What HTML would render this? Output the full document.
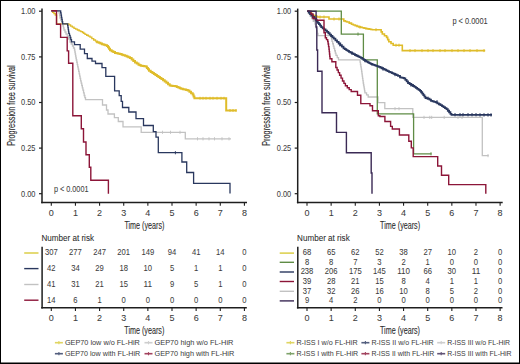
<!DOCTYPE html>
<html><head><meta charset="utf-8"><title>KM</title><style>html,body{margin:0;padding:0;background:#fff;}svg{display:block;}text{font-family:"Liberation Sans",sans-serif;}</style></head><body>
<svg width="520" height="364" viewBox="0 0 520 364" font-family="Liberation Sans, sans-serif">
<rect x="0" y="0" width="520" height="364" fill="#fff"/>
<line x1="42.00" y1="8.60" x2="42.00" y2="203.30" stroke="#1e1e1e" stroke-width="1.5"/>
<line x1="39.00" y1="11.20" x2="42.00" y2="11.20" stroke="#1e1e1e" stroke-width="1.2"/>
<text x="35.50" y="14.10" font-size="9.0" text-anchor="end" fill="#3c3c3c" stroke="#3c3c3c" stroke-width="0.06" textLength="14.40" lengthAdjust="spacingAndGlyphs">1.00</text>
<line x1="39.00" y1="56.90" x2="42.00" y2="56.90" stroke="#1e1e1e" stroke-width="1.2"/>
<text x="35.50" y="59.80" font-size="9.0" text-anchor="end" fill="#3c3c3c" stroke="#3c3c3c" stroke-width="0.06" textLength="14.40" lengthAdjust="spacingAndGlyphs">0.75</text>
<line x1="39.00" y1="102.50" x2="42.00" y2="102.50" stroke="#1e1e1e" stroke-width="1.2"/>
<text x="35.50" y="105.40" font-size="9.0" text-anchor="end" fill="#3c3c3c" stroke="#3c3c3c" stroke-width="0.06" textLength="14.40" lengthAdjust="spacingAndGlyphs">0.50</text>
<line x1="39.00" y1="148.10" x2="42.00" y2="148.10" stroke="#1e1e1e" stroke-width="1.2"/>
<text x="35.50" y="151.00" font-size="9.0" text-anchor="end" fill="#3c3c3c" stroke="#3c3c3c" stroke-width="0.06" textLength="14.40" lengthAdjust="spacingAndGlyphs">0.25</text>
<line x1="39.00" y1="193.70" x2="42.00" y2="193.70" stroke="#1e1e1e" stroke-width="1.2"/>
<text x="35.50" y="196.60" font-size="9.0" text-anchor="end" fill="#3c3c3c" stroke="#3c3c3c" stroke-width="0.06" textLength="14.40" lengthAdjust="spacingAndGlyphs">0.00</text>
<line x1="41.20" y1="202.60" x2="247.00" y2="202.60" stroke="#1e1e1e" stroke-width="1.5"/>
<line x1="51.30" y1="202.60" x2="51.30" y2="205.80" stroke="#1e1e1e" stroke-width="1.1"/>
<text x="51.30" y="215.90" font-size="9.0" text-anchor="middle" fill="#3c3c3c" stroke="#3c3c3c" stroke-width="0.06">0</text>
<line x1="75.44" y1="202.60" x2="75.44" y2="205.80" stroke="#1e1e1e" stroke-width="1.1"/>
<text x="75.44" y="215.90" font-size="9.0" text-anchor="middle" fill="#3c3c3c" stroke="#3c3c3c" stroke-width="0.06">1</text>
<line x1="99.58" y1="202.60" x2="99.58" y2="205.80" stroke="#1e1e1e" stroke-width="1.1"/>
<text x="99.58" y="215.90" font-size="9.0" text-anchor="middle" fill="#3c3c3c" stroke="#3c3c3c" stroke-width="0.06">2</text>
<line x1="123.72" y1="202.60" x2="123.72" y2="205.80" stroke="#1e1e1e" stroke-width="1.1"/>
<text x="123.72" y="215.90" font-size="9.0" text-anchor="middle" fill="#3c3c3c" stroke="#3c3c3c" stroke-width="0.06">3</text>
<line x1="147.86" y1="202.60" x2="147.86" y2="205.80" stroke="#1e1e1e" stroke-width="1.1"/>
<text x="147.86" y="215.90" font-size="9.0" text-anchor="middle" fill="#3c3c3c" stroke="#3c3c3c" stroke-width="0.06">4</text>
<line x1="172.00" y1="202.60" x2="172.00" y2="205.80" stroke="#1e1e1e" stroke-width="1.1"/>
<text x="172.00" y="215.90" font-size="9.0" text-anchor="middle" fill="#3c3c3c" stroke="#3c3c3c" stroke-width="0.06">5</text>
<line x1="196.14" y1="202.60" x2="196.14" y2="205.80" stroke="#1e1e1e" stroke-width="1.1"/>
<text x="196.14" y="215.90" font-size="9.0" text-anchor="middle" fill="#3c3c3c" stroke="#3c3c3c" stroke-width="0.06">6</text>
<line x1="220.28" y1="202.60" x2="220.28" y2="205.80" stroke="#1e1e1e" stroke-width="1.1"/>
<text x="220.28" y="215.90" font-size="9.0" text-anchor="middle" fill="#3c3c3c" stroke="#3c3c3c" stroke-width="0.06">7</text>
<line x1="244.42" y1="202.60" x2="244.42" y2="205.80" stroke="#1e1e1e" stroke-width="1.1"/>
<text x="244.42" y="215.90" font-size="9.0" text-anchor="middle" fill="#3c3c3c" stroke="#3c3c3c" stroke-width="0.06">8</text>
<text x="124.40" y="228.60" font-size="10.6" text-anchor="start" fill="#2e2e2e" stroke="#2e2e2e" stroke-width="0.12" textLength="40.00" lengthAdjust="spacingAndGlyphs">Time (years)</text>
<text x="0" y="0" font-size="10.6" fill="#2e2e2e" textLength="80.5" lengthAdjust="spacingAndGlyphs" stroke="#2e2e2e" stroke-width="0.12" transform="translate(14.60,145.8) rotate(-90)">Progression free survival</text>
<text x="41.40" y="240.80" font-size="9.0" text-anchor="start" fill="#2e2e2e" stroke="#2e2e2e" stroke-width="0.08" textLength="52.60" lengthAdjust="spacingAndGlyphs">Number at risk</text>
<line x1="42.10" y1="246.80" x2="42.10" y2="308.40" stroke="#1e1e1e" stroke-width="1.5"/>
<line x1="41.20" y1="307.70" x2="246.80" y2="307.70" stroke="#1e1e1e" stroke-width="1.5"/>
<line x1="51.30" y1="307.70" x2="51.30" y2="310.90" stroke="#1e1e1e" stroke-width="1.1"/>
<text x="51.30" y="321.00" font-size="9.0" text-anchor="middle" fill="#3c3c3c" stroke="#3c3c3c" stroke-width="0.06">0</text>
<line x1="75.44" y1="307.70" x2="75.44" y2="310.90" stroke="#1e1e1e" stroke-width="1.1"/>
<text x="75.44" y="321.00" font-size="9.0" text-anchor="middle" fill="#3c3c3c" stroke="#3c3c3c" stroke-width="0.06">1</text>
<line x1="99.58" y1="307.70" x2="99.58" y2="310.90" stroke="#1e1e1e" stroke-width="1.1"/>
<text x="99.58" y="321.00" font-size="9.0" text-anchor="middle" fill="#3c3c3c" stroke="#3c3c3c" stroke-width="0.06">2</text>
<line x1="123.72" y1="307.70" x2="123.72" y2="310.90" stroke="#1e1e1e" stroke-width="1.1"/>
<text x="123.72" y="321.00" font-size="9.0" text-anchor="middle" fill="#3c3c3c" stroke="#3c3c3c" stroke-width="0.06">3</text>
<line x1="147.86" y1="307.70" x2="147.86" y2="310.90" stroke="#1e1e1e" stroke-width="1.1"/>
<text x="147.86" y="321.00" font-size="9.0" text-anchor="middle" fill="#3c3c3c" stroke="#3c3c3c" stroke-width="0.06">4</text>
<line x1="172.00" y1="307.70" x2="172.00" y2="310.90" stroke="#1e1e1e" stroke-width="1.1"/>
<text x="172.00" y="321.00" font-size="9.0" text-anchor="middle" fill="#3c3c3c" stroke="#3c3c3c" stroke-width="0.06">5</text>
<line x1="196.14" y1="307.70" x2="196.14" y2="310.90" stroke="#1e1e1e" stroke-width="1.1"/>
<text x="196.14" y="321.00" font-size="9.0" text-anchor="middle" fill="#3c3c3c" stroke="#3c3c3c" stroke-width="0.06">6</text>
<line x1="220.28" y1="307.70" x2="220.28" y2="310.90" stroke="#1e1e1e" stroke-width="1.1"/>
<text x="220.28" y="321.00" font-size="9.0" text-anchor="middle" fill="#3c3c3c" stroke="#3c3c3c" stroke-width="0.06">7</text>
<line x1="244.42" y1="307.70" x2="244.42" y2="310.90" stroke="#1e1e1e" stroke-width="1.1"/>
<text x="244.42" y="321.00" font-size="9.0" text-anchor="middle" fill="#3c3c3c" stroke="#3c3c3c" stroke-width="0.06">8</text>
<text x="124.30" y="333.50" font-size="10.6" text-anchor="start" fill="#2e2e2e" stroke="#2e2e2e" stroke-width="0.12" textLength="40.00" lengthAdjust="spacingAndGlyphs">Time (years)</text>
<line x1="297.70" y1="8.60" x2="297.70" y2="203.30" stroke="#1e1e1e" stroke-width="1.5"/>
<line x1="294.70" y1="11.20" x2="297.70" y2="11.20" stroke="#1e1e1e" stroke-width="1.2"/>
<text x="291.20" y="14.10" font-size="9.0" text-anchor="end" fill="#3c3c3c" stroke="#3c3c3c" stroke-width="0.06" textLength="14.40" lengthAdjust="spacingAndGlyphs">1.00</text>
<line x1="294.70" y1="56.90" x2="297.70" y2="56.90" stroke="#1e1e1e" stroke-width="1.2"/>
<text x="291.20" y="59.80" font-size="9.0" text-anchor="end" fill="#3c3c3c" stroke="#3c3c3c" stroke-width="0.06" textLength="14.40" lengthAdjust="spacingAndGlyphs">0.75</text>
<line x1="294.70" y1="102.50" x2="297.70" y2="102.50" stroke="#1e1e1e" stroke-width="1.2"/>
<text x="291.20" y="105.40" font-size="9.0" text-anchor="end" fill="#3c3c3c" stroke="#3c3c3c" stroke-width="0.06" textLength="14.40" lengthAdjust="spacingAndGlyphs">0.50</text>
<line x1="294.70" y1="148.10" x2="297.70" y2="148.10" stroke="#1e1e1e" stroke-width="1.2"/>
<text x="291.20" y="151.00" font-size="9.0" text-anchor="end" fill="#3c3c3c" stroke="#3c3c3c" stroke-width="0.06" textLength="14.40" lengthAdjust="spacingAndGlyphs">0.25</text>
<line x1="294.70" y1="193.70" x2="297.70" y2="193.70" stroke="#1e1e1e" stroke-width="1.2"/>
<text x="291.20" y="196.60" font-size="9.0" text-anchor="end" fill="#3c3c3c" stroke="#3c3c3c" stroke-width="0.06" textLength="14.40" lengthAdjust="spacingAndGlyphs">0.00</text>
<line x1="296.90" y1="202.60" x2="502.70" y2="202.60" stroke="#1e1e1e" stroke-width="1.5"/>
<line x1="307.00" y1="202.60" x2="307.00" y2="205.80" stroke="#1e1e1e" stroke-width="1.1"/>
<text x="307.00" y="215.90" font-size="9.0" text-anchor="middle" fill="#3c3c3c" stroke="#3c3c3c" stroke-width="0.06">0</text>
<line x1="331.14" y1="202.60" x2="331.14" y2="205.80" stroke="#1e1e1e" stroke-width="1.1"/>
<text x="331.14" y="215.90" font-size="9.0" text-anchor="middle" fill="#3c3c3c" stroke="#3c3c3c" stroke-width="0.06">1</text>
<line x1="355.28" y1="202.60" x2="355.28" y2="205.80" stroke="#1e1e1e" stroke-width="1.1"/>
<text x="355.28" y="215.90" font-size="9.0" text-anchor="middle" fill="#3c3c3c" stroke="#3c3c3c" stroke-width="0.06">2</text>
<line x1="379.42" y1="202.60" x2="379.42" y2="205.80" stroke="#1e1e1e" stroke-width="1.1"/>
<text x="379.42" y="215.90" font-size="9.0" text-anchor="middle" fill="#3c3c3c" stroke="#3c3c3c" stroke-width="0.06">3</text>
<line x1="403.56" y1="202.60" x2="403.56" y2="205.80" stroke="#1e1e1e" stroke-width="1.1"/>
<text x="403.56" y="215.90" font-size="9.0" text-anchor="middle" fill="#3c3c3c" stroke="#3c3c3c" stroke-width="0.06">4</text>
<line x1="427.70" y1="202.60" x2="427.70" y2="205.80" stroke="#1e1e1e" stroke-width="1.1"/>
<text x="427.70" y="215.90" font-size="9.0" text-anchor="middle" fill="#3c3c3c" stroke="#3c3c3c" stroke-width="0.06">5</text>
<line x1="451.84" y1="202.60" x2="451.84" y2="205.80" stroke="#1e1e1e" stroke-width="1.1"/>
<text x="451.84" y="215.90" font-size="9.0" text-anchor="middle" fill="#3c3c3c" stroke="#3c3c3c" stroke-width="0.06">6</text>
<line x1="475.98" y1="202.60" x2="475.98" y2="205.80" stroke="#1e1e1e" stroke-width="1.1"/>
<text x="475.98" y="215.90" font-size="9.0" text-anchor="middle" fill="#3c3c3c" stroke="#3c3c3c" stroke-width="0.06">7</text>
<line x1="500.12" y1="202.60" x2="500.12" y2="205.80" stroke="#1e1e1e" stroke-width="1.1"/>
<text x="500.12" y="215.90" font-size="9.0" text-anchor="middle" fill="#3c3c3c" stroke="#3c3c3c" stroke-width="0.06">8</text>
<text x="380.10" y="228.60" font-size="10.6" text-anchor="start" fill="#2e2e2e" stroke="#2e2e2e" stroke-width="0.12" textLength="40.00" lengthAdjust="spacingAndGlyphs">Time (years)</text>
<text x="0" y="0" font-size="10.6" fill="#2e2e2e" textLength="80.5" lengthAdjust="spacingAndGlyphs" stroke="#2e2e2e" stroke-width="0.12" transform="translate(270.30,145.8) rotate(-90)">Progression free survival</text>
<text x="297.10" y="240.80" font-size="9.0" text-anchor="start" fill="#2e2e2e" stroke="#2e2e2e" stroke-width="0.08" textLength="52.60" lengthAdjust="spacingAndGlyphs">Number at risk</text>
<line x1="297.80" y1="246.80" x2="297.80" y2="308.40" stroke="#1e1e1e" stroke-width="1.5"/>
<line x1="296.90" y1="307.70" x2="502.50" y2="307.70" stroke="#1e1e1e" stroke-width="1.5"/>
<line x1="307.00" y1="307.70" x2="307.00" y2="310.90" stroke="#1e1e1e" stroke-width="1.1"/>
<text x="307.00" y="321.00" font-size="9.0" text-anchor="middle" fill="#3c3c3c" stroke="#3c3c3c" stroke-width="0.06">0</text>
<line x1="331.14" y1="307.70" x2="331.14" y2="310.90" stroke="#1e1e1e" stroke-width="1.1"/>
<text x="331.14" y="321.00" font-size="9.0" text-anchor="middle" fill="#3c3c3c" stroke="#3c3c3c" stroke-width="0.06">1</text>
<line x1="355.28" y1="307.70" x2="355.28" y2="310.90" stroke="#1e1e1e" stroke-width="1.1"/>
<text x="355.28" y="321.00" font-size="9.0" text-anchor="middle" fill="#3c3c3c" stroke="#3c3c3c" stroke-width="0.06">2</text>
<line x1="379.42" y1="307.70" x2="379.42" y2="310.90" stroke="#1e1e1e" stroke-width="1.1"/>
<text x="379.42" y="321.00" font-size="9.0" text-anchor="middle" fill="#3c3c3c" stroke="#3c3c3c" stroke-width="0.06">3</text>
<line x1="403.56" y1="307.70" x2="403.56" y2="310.90" stroke="#1e1e1e" stroke-width="1.1"/>
<text x="403.56" y="321.00" font-size="9.0" text-anchor="middle" fill="#3c3c3c" stroke="#3c3c3c" stroke-width="0.06">4</text>
<line x1="427.70" y1="307.70" x2="427.70" y2="310.90" stroke="#1e1e1e" stroke-width="1.1"/>
<text x="427.70" y="321.00" font-size="9.0" text-anchor="middle" fill="#3c3c3c" stroke="#3c3c3c" stroke-width="0.06">5</text>
<line x1="451.84" y1="307.70" x2="451.84" y2="310.90" stroke="#1e1e1e" stroke-width="1.1"/>
<text x="451.84" y="321.00" font-size="9.0" text-anchor="middle" fill="#3c3c3c" stroke="#3c3c3c" stroke-width="0.06">6</text>
<line x1="475.98" y1="307.70" x2="475.98" y2="310.90" stroke="#1e1e1e" stroke-width="1.1"/>
<text x="475.98" y="321.00" font-size="9.0" text-anchor="middle" fill="#3c3c3c" stroke="#3c3c3c" stroke-width="0.06">7</text>
<line x1="500.12" y1="307.70" x2="500.12" y2="310.90" stroke="#1e1e1e" stroke-width="1.1"/>
<text x="500.12" y="321.00" font-size="9.0" text-anchor="middle" fill="#3c3c3c" stroke="#3c3c3c" stroke-width="0.06">8</text>
<text x="380.00" y="333.50" font-size="10.6" text-anchor="start" fill="#2e2e2e" stroke="#2e2e2e" stroke-width="0.12" textLength="40.00" lengthAdjust="spacingAndGlyphs">Time (years)</text>
<path d="M51.30,10.80H52.62V12.23H53.95V13.65H55.27V15.07H56.60V16.50V23.80H67.20H68.90V24.93H70.60V26.05H72.30V27.18H74.00V28.30H75.70V29.14H77.40V29.98H79.10V30.82H80.80V31.66H82.50V32.50H83.75V33.40H85.00V34.30H86.67V35.23H88.33V36.17H90.00V37.10H91.83V38.57H93.67V40.03H95.50V41.50" fill="none" stroke="#dfbc2a" stroke-width="1.35" stroke-linejoin="miter" stroke-linecap="butt"/>
<path d="M95.50,41.50H97.14V42.16H98.78V42.82H100.42V43.48H102.06V44.14H103.70V44.80H105.35V45.35H107.00V45.90H108.00V47.37H109.00V48.83H110.00V50.30H111.67V51.20H113.33V52.10H115.00V53.00H116.67V53.37H118.33V53.73H120.00V54.10H121.67V54.67H123.33V55.23H125.00V55.80H126.67V56.53H128.33V57.27H130.00V58.00H131.67V59.47H133.33V60.93H135.00V62.40H136.75V63.60H138.50V64.80H139.75V65.30H141.00V65.80H142.60V66.03H144.20V66.27H145.80V66.50H146.87V67.90H147.93V69.30H149.00V70.70H150.70V71.90H152.40V73.10H153.90V74.07H155.40V75.03H156.90V76.00H158.40V76.97H159.90V77.93H161.40V78.90H163.06V80.22H164.72V81.54H166.38V82.86H168.04V84.18H169.70V85.50H171.12V85.70H172.55V85.90H173.97V86.10H175.40V86.30H176.85V86.92H178.30V87.55H179.75V88.17H181.20V88.80H182.85V89.20H184.50V89.60H186.15V90.00H187.80V90.40H189.43V91.80H191.07V93.20H192.70V94.60H193.55V96.40H194.40V98.20H226.20V110.40H236.70" fill="none" stroke="#dfbc2a" stroke-width="2.0" stroke-linejoin="miter" stroke-linecap="butt"/>
<path d="M200.00,96.80V99.60M203.00,96.80V99.60M206.00,96.80V99.60M210.00,96.80V99.60M213.00,96.80V99.60M217.00,96.80V99.60M221.00,96.80V99.60M224.00,96.80V99.60M230.00,109.00V111.80M233.00,109.00V111.80M236.00,109.00V111.80" stroke="#dfbc2a" stroke-width="1.0" fill="none"/>
<path d="M51.30,10.80H58.70H59.13V13.20H59.57V15.60H60.00V18.00H60.83V20.00H61.67V22.00H62.50V24.00H63.00V26.00H63.50V28.00H64.00V30.00H65.00V32.00H66.00V34.00H67.25V36.50H68.50V39.00H70.00V42.00H71.25V44.00H72.50V46.00H73.50V48.00H74.50V50.00H74.86V52.00H75.22V54.00H75.58V56.00H75.94V58.00H76.30V60.00H76.78V62.27H77.25V64.55H77.72V66.82H78.20V69.10H78.68V71.44H79.16V73.78H79.64V76.12H80.12V78.46H80.60V80.80H81.17V83.15H81.75V85.50H82.33V87.85H82.90V90.20H83.55V92.85H84.20V95.50H84.85V97.55H85.50V99.60H102.50V105.00H106.50V110.00H108.00V114.00H114.40V117.70H118.30V121.50H123.00V126.80H141.20V132.30H185.30V138.80H231.00" fill="none" stroke="#c2c2c2" stroke-width="1.3" stroke-linejoin="miter" stroke-linecap="butt"/>
<path d="M162.50,130.70V133.90M170.50,130.70V133.90M180.00,130.70V133.90M197.50,137.20V140.40M203.00,137.20V140.40M209.00,137.20V140.40M214.50,137.20V140.40M222.00,137.20V140.40M229.00,137.20V140.40" stroke="#c2c2c2" stroke-width="0.9" fill="none"/>
<path d="M51.30,10.80H60.30H60.68V12.97H61.07V15.13H61.45V17.30H61.83V19.47H62.22V21.63H62.60V23.80H67.40H67.68V25.72H67.96V27.64H68.24V29.56H68.52V31.48H68.80V33.40H69.45V35.45H70.10V37.50H70.80V39.65H71.50V41.80H74.50V44.60H80.20V49.20H84.50V53.60H87.30V58.50H92.00V61.20H95.50V63.50H102.00V67.70H105.80V76.30H114.60V90.80H119.20V95.60H121.20V101.30H122.50V107.50H128.80V112.00H136.00V118.70H143.50V125.50H153.30V131.70H156.00V137.20H158.30V152.70H181.90V162.00H186.70V172.50H193.60V183.30H230.00V193.60" fill="none" stroke="#29375e" stroke-width="1.3" stroke-linejoin="miter" stroke-linecap="butt"/>
<path d="M175.40,151.10V154.30" stroke="#29375e" stroke-width="0.9" fill="none"/>
<path d="M51.3,10.8H56.5V24.2H60.6V37.4H67.2V50.9H68.6V63.3H72.8V115.8H81.3V128.8H83.5V142H86V154.8H89.3V167.3H90.8V180.2H108.4V193.7" fill="none" stroke="#8c1538" stroke-width="1.4" stroke-linejoin="miter" stroke-linecap="butt"/>
<text x="53.90" y="191.70" font-size="9.0" text-anchor="start" fill="#3c3c3c" stroke="#3c3c3c" stroke-width="0.06" textLength="34.60" lengthAdjust="spacingAndGlyphs">p &lt; 0.0001</text>
<path d="M307.30,11.20H309.45V13.10H311.60V15.00H313.53V15.67H315.47V16.33H317.40V17.00H329.00V19.00H343.80V20.90H345.40V21.45H347.00V22.00H349.25V23.10H351.50V24.20H353.33V24.93H355.17V25.67H357.00V26.40H358.76V26.84H360.52V27.28H362.28V27.72H364.04V28.16H365.80V28.60H367.45V28.88H369.10V29.15H370.75V29.43H372.40V29.70H380.00H381.15V31.85H382.30V34.00H384.45V35.70H386.60V37.40H387.70V39.60H388.80V41.80H391.00V43.50H393.20V45.20H402.30V50.60H485.20" fill="none" stroke="#dfbc2a" stroke-width="1.6" stroke-linejoin="miter" stroke-linecap="butt"/>
<path d="M320.00,15.50V18.50M324.00,15.50V18.50M334.00,17.50V20.50M339.00,17.50V20.50M360.00,25.70V28.70M376.00,28.20V31.20M396.00,43.70V46.70M399.00,43.70V46.70M410.00,49.10V52.10M415.00,49.10V52.10M422.00,49.10V52.10M428.00,49.10V52.10M433.00,49.10V52.10M440.00,49.10V52.10M445.00,49.10V52.10M452.00,49.10V52.10M458.00,49.10V52.10M464.00,49.10V52.10M470.00,49.10V52.10M477.00,49.10V52.10M484.00,49.10V52.10" stroke="#dfbc2a" stroke-width="1.0" fill="none"/>
<path d="M307.30,11.20H308.73V13.63H310.17V16.07H311.60V18.50H313.30V21.25H315.00V24.00H315.58V26.32H316.16V28.64H316.74V30.96H317.32V33.28H317.90V35.60H330.90H331.27V37.53H331.63V39.47H332.00V41.40H332.67V43.73H333.33V46.07H334.00V48.40H334.67V50.73H335.33V53.07H336.00V55.40H337.25V57.60H338.50V59.80H359.70H360.08V62.14H360.46V64.48H360.84V66.82H361.22V69.16H361.60V71.50H361.92V73.80H362.24V76.10H362.56V78.40H362.88V80.70H363.20V83.00H363.54V84.98H363.88V86.96H364.22V88.94H364.56V90.92H364.90V92.90H366.55V94.95H368.20V97.00H378.00V102.60H384.80V108.70H412.80V117.40H482.30V155.60H488.70" fill="none" stroke="#c2c2c2" stroke-width="1.3" stroke-linejoin="miter" stroke-linecap="butt"/>
<path d="M395.00,107.10V110.30M399.00,107.10V110.30M424.00,115.80V119.00M429.80,115.80V119.00M431.70,115.80V119.00M444.20,115.80V119.00M458.00,115.80V119.00M462.00,115.80V119.00M488.00,154.00V157.20" stroke="#c2c2c2" stroke-width="0.9" fill="none"/>
<path d="M307.3,11.2H341.3V34.1H363.4V59.9H377.3V113.9H413.6V153.8H431.6" fill="none" stroke="#5f8c45" stroke-width="1.3" stroke-linejoin="miter" stroke-linecap="butt"/>
<path d="M358.00,32.50V35.70M431.00,152.20V155.40" stroke="#5f8c45" stroke-width="0.9" fill="none"/>
<path d="M307.30,11.20H308.67V12.65H310.03V14.10H311.40V15.55H312.77V17.00H314.13V18.45H315.50V19.90H316.64V21.34H317.78V22.78H318.92V24.22H320.06V25.66H321.20V27.10H322.65V28.30H324.10V29.50H325.55V30.70H327.00V31.90H328.36V33.26H329.72V34.62H331.08V35.98H332.44V37.34H333.80V38.70H335.42V40.30H337.03V41.90H338.65V43.50H340.27V45.10H341.88V46.70H343.50V48.30H344.88V49.17H346.25V50.05H347.62V50.92H349.00V51.80H350.50V52.60H352.00V53.40H353.50V54.20H355.00V55.00H356.45V55.73H357.90V56.45H359.35V57.17H360.80V57.90H362.23V58.85H363.65V59.80H365.07V60.75H366.50V61.70H367.88V62.40H369.25V63.10H370.62V63.80H372.00V64.50H373.36V64.96H374.72V65.42H376.08V65.88H377.44V66.34H378.80V66.80H380.26V67.51H381.71V68.23H383.17V68.94H384.63V69.66H386.09V70.37H387.54V71.09H389.00V71.80H390.50V72.47H392.00V73.13H393.50V73.80H395.00V74.47H396.50V75.13H398.00V75.80H400.00V77.30H401.33V77.63H402.67V77.97H404.00V78.30H405.33V79.87H406.67V81.43H408.00V83.00H409.67V84.00H411.33V85.00H413.00V86.00H414.40V86.96H415.80V87.92H417.20V88.88H418.60V89.84H420.00V90.80H421.10V92.24H422.20V93.68H423.30V95.12H424.40V96.56H425.50V98.00H426.75V98.30H428.00V98.60H429.50V99.70H431.00V100.80H432.60V101.30H434.20V101.80H435.80V102.30H437.35V103.28H438.90V104.25H440.45V105.22H442.00V106.20H443.50V107.20H445.00V108.20H446.50V109.20H447.80V110.73H449.10V112.27H450.40V113.80H451.50V114.90H492.00" fill="none" stroke="#29375e" stroke-width="1.8" stroke-linejoin="miter" stroke-linecap="butt"/>
<path d="M340.00,43.10V46.50M352.00,51.50V54.90M365.00,58.90V62.30M383.00,67.30V70.70M395.00,72.80V76.20M411.00,83.30V86.70M428.00,96.60V100.00M437.00,100.10V103.50M455.00,113.00V116.40M460.00,113.00V116.40M463.00,113.00V116.40M468.00,113.00V116.40M472.00,113.00V116.40M476.00,113.00V116.40M480.00,113.20V116.60M484.00,113.20V116.60M488.00,113.20V116.60M491.00,113.20V116.60" stroke="#29375e" stroke-width="1.0" fill="none"/>
<path d="M307.30,11.20H311.00V14.00H313.00V18.50H316.50V20.20H324.00V32.80H325.30V37.70H326.50V39.60H327.70V41.50H328.13V44.07H328.57V46.63H329.00V49.20H329.25V51.60H329.50V54.00H329.75V56.40H330.00V58.80H331.90V61.70H335.80V67.50H337.07V70.07H338.33V72.63H339.60V75.20H341.05V78.10H342.50V81.00H343.95V83.40H345.40V85.80H347.30V87.70H349.20V89.60H351.20V91.50H357.50V95.20H360.80V103.60H370.00V105.80H372.50V110.70H378.30V115.70H379.90V116.50H384.90V121.50H390.60V126.40H392.30V129.00H399.40V135.00H408.80V141.30H411.30V147.90H413.20V156.60H437.70V166.00H441.50V175.20H448.70V184.60H485.80V193.80" fill="none" stroke="#8c1538" stroke-width="1.4" stroke-linejoin="miter" stroke-linecap="butt"/>
<path d="M307.3,11.2H316.1V27H316.8V50H317.6V71.2H322V112.7H336.5V132.4H346.4V152.7H371.2V173H372V193.8" fill="none" stroke="#3b2a55" stroke-width="1.4" stroke-linejoin="miter" stroke-linecap="butt"/>
<text x="452.40" y="23.70" font-size="9.0" text-anchor="start" fill="#3c3c3c" stroke="#3c3c3c" stroke-width="0.06" textLength="35.30" lengthAdjust="spacingAndGlyphs">p &lt; 0.0001</text>
<line x1="24.20" y1="253.00" x2="38.50" y2="253.00" stroke="#d9cb3a" stroke-width="1.4"/>
<text x="51.30" y="255.30" font-size="9.0" text-anchor="middle" fill="#3c3c3c" stroke="#3c3c3c" stroke-width="0.05" textLength="12.75" lengthAdjust="spacingAndGlyphs">307</text>
<text x="75.44" y="255.30" font-size="9.0" text-anchor="middle" fill="#3c3c3c" stroke="#3c3c3c" stroke-width="0.05" textLength="12.75" lengthAdjust="spacingAndGlyphs">277</text>
<text x="99.58" y="255.30" font-size="9.0" text-anchor="middle" fill="#3c3c3c" stroke="#3c3c3c" stroke-width="0.05" textLength="12.75" lengthAdjust="spacingAndGlyphs">247</text>
<text x="123.72" y="255.30" font-size="9.0" text-anchor="middle" fill="#3c3c3c" stroke="#3c3c3c" stroke-width="0.05" textLength="12.75" lengthAdjust="spacingAndGlyphs">201</text>
<text x="147.86" y="255.30" font-size="9.0" text-anchor="middle" fill="#3c3c3c" stroke="#3c3c3c" stroke-width="0.05" textLength="12.75" lengthAdjust="spacingAndGlyphs">149</text>
<text x="172.00" y="255.30" font-size="9.0" text-anchor="middle" fill="#3c3c3c" stroke="#3c3c3c" stroke-width="0.05" textLength="8.50" lengthAdjust="spacingAndGlyphs">94</text>
<text x="196.14" y="255.30" font-size="9.0" text-anchor="middle" fill="#3c3c3c" stroke="#3c3c3c" stroke-width="0.05" textLength="8.50" lengthAdjust="spacingAndGlyphs">41</text>
<text x="220.28" y="255.30" font-size="9.0" text-anchor="middle" fill="#3c3c3c" stroke="#3c3c3c" stroke-width="0.05" textLength="8.50" lengthAdjust="spacingAndGlyphs">14</text>
<text x="244.42" y="255.30" font-size="9.0" text-anchor="middle" fill="#3c3c3c" stroke="#3c3c3c" stroke-width="0.05" textLength="4.25" lengthAdjust="spacingAndGlyphs">0</text>
<line x1="24.20" y1="268.60" x2="38.50" y2="268.60" stroke="#29375e" stroke-width="1.4"/>
<text x="51.30" y="270.90" font-size="9.0" text-anchor="middle" fill="#3c3c3c" stroke="#3c3c3c" stroke-width="0.05" textLength="8.50" lengthAdjust="spacingAndGlyphs">42</text>
<text x="75.44" y="270.90" font-size="9.0" text-anchor="middle" fill="#3c3c3c" stroke="#3c3c3c" stroke-width="0.05" textLength="8.50" lengthAdjust="spacingAndGlyphs">34</text>
<text x="99.58" y="270.90" font-size="9.0" text-anchor="middle" fill="#3c3c3c" stroke="#3c3c3c" stroke-width="0.05" textLength="8.50" lengthAdjust="spacingAndGlyphs">29</text>
<text x="123.72" y="270.90" font-size="9.0" text-anchor="middle" fill="#3c3c3c" stroke="#3c3c3c" stroke-width="0.05" textLength="8.50" lengthAdjust="spacingAndGlyphs">18</text>
<text x="147.86" y="270.90" font-size="9.0" text-anchor="middle" fill="#3c3c3c" stroke="#3c3c3c" stroke-width="0.05" textLength="8.50" lengthAdjust="spacingAndGlyphs">10</text>
<text x="172.00" y="270.90" font-size="9.0" text-anchor="middle" fill="#3c3c3c" stroke="#3c3c3c" stroke-width="0.05" textLength="4.25" lengthAdjust="spacingAndGlyphs">5</text>
<text x="196.14" y="270.90" font-size="9.0" text-anchor="middle" fill="#3c3c3c" stroke="#3c3c3c" stroke-width="0.05" textLength="4.25" lengthAdjust="spacingAndGlyphs">1</text>
<text x="220.28" y="270.90" font-size="9.0" text-anchor="middle" fill="#3c3c3c" stroke="#3c3c3c" stroke-width="0.05" textLength="4.25" lengthAdjust="spacingAndGlyphs">1</text>
<text x="244.42" y="270.90" font-size="9.0" text-anchor="middle" fill="#3c3c3c" stroke="#3c3c3c" stroke-width="0.05" textLength="4.25" lengthAdjust="spacingAndGlyphs">0</text>
<line x1="24.20" y1="284.50" x2="38.50" y2="284.50" stroke="#c2c2c2" stroke-width="1.4"/>
<text x="51.30" y="286.80" font-size="9.0" text-anchor="middle" fill="#3c3c3c" stroke="#3c3c3c" stroke-width="0.05" textLength="8.50" lengthAdjust="spacingAndGlyphs">41</text>
<text x="75.44" y="286.80" font-size="9.0" text-anchor="middle" fill="#3c3c3c" stroke="#3c3c3c" stroke-width="0.05" textLength="8.50" lengthAdjust="spacingAndGlyphs">31</text>
<text x="99.58" y="286.80" font-size="9.0" text-anchor="middle" fill="#3c3c3c" stroke="#3c3c3c" stroke-width="0.05" textLength="8.50" lengthAdjust="spacingAndGlyphs">21</text>
<text x="123.72" y="286.80" font-size="9.0" text-anchor="middle" fill="#3c3c3c" stroke="#3c3c3c" stroke-width="0.05" textLength="8.50" lengthAdjust="spacingAndGlyphs">15</text>
<text x="147.86" y="286.80" font-size="9.0" text-anchor="middle" fill="#3c3c3c" stroke="#3c3c3c" stroke-width="0.05" textLength="8.50" lengthAdjust="spacingAndGlyphs">11</text>
<text x="172.00" y="286.80" font-size="9.0" text-anchor="middle" fill="#3c3c3c" stroke="#3c3c3c" stroke-width="0.05" textLength="4.25" lengthAdjust="spacingAndGlyphs">9</text>
<text x="196.14" y="286.80" font-size="9.0" text-anchor="middle" fill="#3c3c3c" stroke="#3c3c3c" stroke-width="0.05" textLength="4.25" lengthAdjust="spacingAndGlyphs">5</text>
<text x="220.28" y="286.80" font-size="9.0" text-anchor="middle" fill="#3c3c3c" stroke="#3c3c3c" stroke-width="0.05" textLength="4.25" lengthAdjust="spacingAndGlyphs">1</text>
<text x="244.42" y="286.80" font-size="9.0" text-anchor="middle" fill="#3c3c3c" stroke="#3c3c3c" stroke-width="0.05" textLength="4.25" lengthAdjust="spacingAndGlyphs">0</text>
<line x1="24.20" y1="300.20" x2="38.50" y2="300.20" stroke="#8c1538" stroke-width="1.4"/>
<text x="51.30" y="302.50" font-size="9.0" text-anchor="middle" fill="#3c3c3c" stroke="#3c3c3c" stroke-width="0.05" textLength="8.50" lengthAdjust="spacingAndGlyphs">14</text>
<text x="75.44" y="302.50" font-size="9.0" text-anchor="middle" fill="#3c3c3c" stroke="#3c3c3c" stroke-width="0.05" textLength="4.25" lengthAdjust="spacingAndGlyphs">6</text>
<text x="99.58" y="302.50" font-size="9.0" text-anchor="middle" fill="#3c3c3c" stroke="#3c3c3c" stroke-width="0.05" textLength="4.25" lengthAdjust="spacingAndGlyphs">1</text>
<text x="123.72" y="302.50" font-size="9.0" text-anchor="middle" fill="#3c3c3c" stroke="#3c3c3c" stroke-width="0.05" textLength="4.25" lengthAdjust="spacingAndGlyphs">0</text>
<text x="147.86" y="302.50" font-size="9.0" text-anchor="middle" fill="#3c3c3c" stroke="#3c3c3c" stroke-width="0.05" textLength="4.25" lengthAdjust="spacingAndGlyphs">0</text>
<text x="172.00" y="302.50" font-size="9.0" text-anchor="middle" fill="#3c3c3c" stroke="#3c3c3c" stroke-width="0.05" textLength="4.25" lengthAdjust="spacingAndGlyphs">0</text>
<text x="196.14" y="302.50" font-size="9.0" text-anchor="middle" fill="#3c3c3c" stroke="#3c3c3c" stroke-width="0.05" textLength="4.25" lengthAdjust="spacingAndGlyphs">0</text>
<text x="220.28" y="302.50" font-size="9.0" text-anchor="middle" fill="#3c3c3c" stroke="#3c3c3c" stroke-width="0.05" textLength="4.25" lengthAdjust="spacingAndGlyphs">0</text>
<text x="244.42" y="302.50" font-size="9.0" text-anchor="middle" fill="#3c3c3c" stroke="#3c3c3c" stroke-width="0.05" textLength="4.25" lengthAdjust="spacingAndGlyphs">0</text>
<line x1="279.70" y1="253.10" x2="294.00" y2="253.10" stroke="#d9cb3a" stroke-width="1.4"/>
<text x="307.00" y="255.40" font-size="9.0" text-anchor="middle" fill="#3c3c3c" stroke="#3c3c3c" stroke-width="0.05" textLength="8.50" lengthAdjust="spacingAndGlyphs">68</text>
<text x="331.14" y="255.40" font-size="9.0" text-anchor="middle" fill="#3c3c3c" stroke="#3c3c3c" stroke-width="0.05" textLength="8.50" lengthAdjust="spacingAndGlyphs">65</text>
<text x="355.28" y="255.40" font-size="9.0" text-anchor="middle" fill="#3c3c3c" stroke="#3c3c3c" stroke-width="0.05" textLength="8.50" lengthAdjust="spacingAndGlyphs">62</text>
<text x="379.42" y="255.40" font-size="9.0" text-anchor="middle" fill="#3c3c3c" stroke="#3c3c3c" stroke-width="0.05" textLength="8.50" lengthAdjust="spacingAndGlyphs">52</text>
<text x="403.56" y="255.40" font-size="9.0" text-anchor="middle" fill="#3c3c3c" stroke="#3c3c3c" stroke-width="0.05" textLength="8.50" lengthAdjust="spacingAndGlyphs">38</text>
<text x="427.70" y="255.40" font-size="9.0" text-anchor="middle" fill="#3c3c3c" stroke="#3c3c3c" stroke-width="0.05" textLength="8.50" lengthAdjust="spacingAndGlyphs">27</text>
<text x="451.84" y="255.40" font-size="9.0" text-anchor="middle" fill="#3c3c3c" stroke="#3c3c3c" stroke-width="0.05" textLength="8.50" lengthAdjust="spacingAndGlyphs">10</text>
<text x="475.98" y="255.40" font-size="9.0" text-anchor="middle" fill="#3c3c3c" stroke="#3c3c3c" stroke-width="0.05" textLength="4.25" lengthAdjust="spacingAndGlyphs">2</text>
<text x="500.12" y="255.40" font-size="9.0" text-anchor="middle" fill="#3c3c3c" stroke="#3c3c3c" stroke-width="0.05" textLength="4.25" lengthAdjust="spacingAndGlyphs">0</text>
<line x1="279.70" y1="262.30" x2="294.00" y2="262.30" stroke="#5f8c45" stroke-width="1.4"/>
<text x="307.00" y="264.60" font-size="9.0" text-anchor="middle" fill="#3c3c3c" stroke="#3c3c3c" stroke-width="0.05" textLength="4.25" lengthAdjust="spacingAndGlyphs">8</text>
<text x="331.14" y="264.60" font-size="9.0" text-anchor="middle" fill="#3c3c3c" stroke="#3c3c3c" stroke-width="0.05" textLength="4.25" lengthAdjust="spacingAndGlyphs">8</text>
<text x="355.28" y="264.60" font-size="9.0" text-anchor="middle" fill="#3c3c3c" stroke="#3c3c3c" stroke-width="0.05" textLength="4.25" lengthAdjust="spacingAndGlyphs">7</text>
<text x="379.42" y="264.60" font-size="9.0" text-anchor="middle" fill="#3c3c3c" stroke="#3c3c3c" stroke-width="0.05" textLength="4.25" lengthAdjust="spacingAndGlyphs">3</text>
<text x="403.56" y="264.60" font-size="9.0" text-anchor="middle" fill="#3c3c3c" stroke="#3c3c3c" stroke-width="0.05" textLength="4.25" lengthAdjust="spacingAndGlyphs">2</text>
<text x="427.70" y="264.60" font-size="9.0" text-anchor="middle" fill="#3c3c3c" stroke="#3c3c3c" stroke-width="0.05" textLength="4.25" lengthAdjust="spacingAndGlyphs">1</text>
<text x="451.84" y="264.60" font-size="9.0" text-anchor="middle" fill="#3c3c3c" stroke="#3c3c3c" stroke-width="0.05" textLength="4.25" lengthAdjust="spacingAndGlyphs">0</text>
<text x="475.98" y="264.60" font-size="9.0" text-anchor="middle" fill="#3c3c3c" stroke="#3c3c3c" stroke-width="0.05" textLength="4.25" lengthAdjust="spacingAndGlyphs">0</text>
<text x="500.12" y="264.60" font-size="9.0" text-anchor="middle" fill="#3c3c3c" stroke="#3c3c3c" stroke-width="0.05" textLength="4.25" lengthAdjust="spacingAndGlyphs">0</text>
<line x1="279.70" y1="272.00" x2="294.00" y2="272.00" stroke="#29375e" stroke-width="1.4"/>
<text x="307.00" y="274.30" font-size="9.0" text-anchor="middle" fill="#3c3c3c" stroke="#3c3c3c" stroke-width="0.05" textLength="12.75" lengthAdjust="spacingAndGlyphs">238</text>
<text x="331.14" y="274.30" font-size="9.0" text-anchor="middle" fill="#3c3c3c" stroke="#3c3c3c" stroke-width="0.05" textLength="12.75" lengthAdjust="spacingAndGlyphs">206</text>
<text x="355.28" y="274.30" font-size="9.0" text-anchor="middle" fill="#3c3c3c" stroke="#3c3c3c" stroke-width="0.05" textLength="12.75" lengthAdjust="spacingAndGlyphs">175</text>
<text x="379.42" y="274.30" font-size="9.0" text-anchor="middle" fill="#3c3c3c" stroke="#3c3c3c" stroke-width="0.05" textLength="12.75" lengthAdjust="spacingAndGlyphs">145</text>
<text x="403.56" y="274.30" font-size="9.0" text-anchor="middle" fill="#3c3c3c" stroke="#3c3c3c" stroke-width="0.05" textLength="12.75" lengthAdjust="spacingAndGlyphs">110</text>
<text x="427.70" y="274.30" font-size="9.0" text-anchor="middle" fill="#3c3c3c" stroke="#3c3c3c" stroke-width="0.05" textLength="8.50" lengthAdjust="spacingAndGlyphs">66</text>
<text x="451.84" y="274.30" font-size="9.0" text-anchor="middle" fill="#3c3c3c" stroke="#3c3c3c" stroke-width="0.05" textLength="8.50" lengthAdjust="spacingAndGlyphs">30</text>
<text x="475.98" y="274.30" font-size="9.0" text-anchor="middle" fill="#3c3c3c" stroke="#3c3c3c" stroke-width="0.05" textLength="8.50" lengthAdjust="spacingAndGlyphs">11</text>
<text x="500.12" y="274.30" font-size="9.0" text-anchor="middle" fill="#3c3c3c" stroke="#3c3c3c" stroke-width="0.05" textLength="4.25" lengthAdjust="spacingAndGlyphs">0</text>
<line x1="279.70" y1="281.50" x2="294.00" y2="281.50" stroke="#8c1538" stroke-width="1.4"/>
<text x="307.00" y="283.80" font-size="9.0" text-anchor="middle" fill="#3c3c3c" stroke="#3c3c3c" stroke-width="0.05" textLength="8.50" lengthAdjust="spacingAndGlyphs">39</text>
<text x="331.14" y="283.80" font-size="9.0" text-anchor="middle" fill="#3c3c3c" stroke="#3c3c3c" stroke-width="0.05" textLength="8.50" lengthAdjust="spacingAndGlyphs">28</text>
<text x="355.28" y="283.80" font-size="9.0" text-anchor="middle" fill="#3c3c3c" stroke="#3c3c3c" stroke-width="0.05" textLength="8.50" lengthAdjust="spacingAndGlyphs">21</text>
<text x="379.42" y="283.80" font-size="9.0" text-anchor="middle" fill="#3c3c3c" stroke="#3c3c3c" stroke-width="0.05" textLength="8.50" lengthAdjust="spacingAndGlyphs">15</text>
<text x="403.56" y="283.80" font-size="9.0" text-anchor="middle" fill="#3c3c3c" stroke="#3c3c3c" stroke-width="0.05" textLength="4.25" lengthAdjust="spacingAndGlyphs">8</text>
<text x="427.70" y="283.80" font-size="9.0" text-anchor="middle" fill="#3c3c3c" stroke="#3c3c3c" stroke-width="0.05" textLength="4.25" lengthAdjust="spacingAndGlyphs">4</text>
<text x="451.84" y="283.80" font-size="9.0" text-anchor="middle" fill="#3c3c3c" stroke="#3c3c3c" stroke-width="0.05" textLength="4.25" lengthAdjust="spacingAndGlyphs">1</text>
<text x="475.98" y="283.80" font-size="9.0" text-anchor="middle" fill="#3c3c3c" stroke="#3c3c3c" stroke-width="0.05" textLength="4.25" lengthAdjust="spacingAndGlyphs">1</text>
<text x="500.12" y="283.80" font-size="9.0" text-anchor="middle" fill="#3c3c3c" stroke="#3c3c3c" stroke-width="0.05" textLength="4.25" lengthAdjust="spacingAndGlyphs">0</text>
<line x1="279.70" y1="291.30" x2="294.00" y2="291.30" stroke="#c2c2c2" stroke-width="1.4"/>
<text x="307.00" y="293.60" font-size="9.0" text-anchor="middle" fill="#3c3c3c" stroke="#3c3c3c" stroke-width="0.05" textLength="8.50" lengthAdjust="spacingAndGlyphs">37</text>
<text x="331.14" y="293.60" font-size="9.0" text-anchor="middle" fill="#3c3c3c" stroke="#3c3c3c" stroke-width="0.05" textLength="8.50" lengthAdjust="spacingAndGlyphs">32</text>
<text x="355.28" y="293.60" font-size="9.0" text-anchor="middle" fill="#3c3c3c" stroke="#3c3c3c" stroke-width="0.05" textLength="8.50" lengthAdjust="spacingAndGlyphs">26</text>
<text x="379.42" y="293.60" font-size="9.0" text-anchor="middle" fill="#3c3c3c" stroke="#3c3c3c" stroke-width="0.05" textLength="8.50" lengthAdjust="spacingAndGlyphs">16</text>
<text x="403.56" y="293.60" font-size="9.0" text-anchor="middle" fill="#3c3c3c" stroke="#3c3c3c" stroke-width="0.05" textLength="8.50" lengthAdjust="spacingAndGlyphs">10</text>
<text x="427.70" y="293.60" font-size="9.0" text-anchor="middle" fill="#3c3c3c" stroke="#3c3c3c" stroke-width="0.05" textLength="4.25" lengthAdjust="spacingAndGlyphs">8</text>
<text x="451.84" y="293.60" font-size="9.0" text-anchor="middle" fill="#3c3c3c" stroke="#3c3c3c" stroke-width="0.05" textLength="4.25" lengthAdjust="spacingAndGlyphs">5</text>
<text x="475.98" y="293.60" font-size="9.0" text-anchor="middle" fill="#3c3c3c" stroke="#3c3c3c" stroke-width="0.05" textLength="4.25" lengthAdjust="spacingAndGlyphs">2</text>
<text x="500.12" y="293.60" font-size="9.0" text-anchor="middle" fill="#3c3c3c" stroke="#3c3c3c" stroke-width="0.05" textLength="4.25" lengthAdjust="spacingAndGlyphs">0</text>
<line x1="279.70" y1="300.90" x2="294.00" y2="300.90" stroke="#3b2a55" stroke-width="1.4"/>
<text x="307.00" y="303.20" font-size="9.0" text-anchor="middle" fill="#3c3c3c" stroke="#3c3c3c" stroke-width="0.05" textLength="4.25" lengthAdjust="spacingAndGlyphs">9</text>
<text x="331.14" y="303.20" font-size="9.0" text-anchor="middle" fill="#3c3c3c" stroke="#3c3c3c" stroke-width="0.05" textLength="4.25" lengthAdjust="spacingAndGlyphs">4</text>
<text x="355.28" y="303.20" font-size="9.0" text-anchor="middle" fill="#3c3c3c" stroke="#3c3c3c" stroke-width="0.05" textLength="4.25" lengthAdjust="spacingAndGlyphs">2</text>
<text x="379.42" y="303.20" font-size="9.0" text-anchor="middle" fill="#3c3c3c" stroke="#3c3c3c" stroke-width="0.05" textLength="4.25" lengthAdjust="spacingAndGlyphs">0</text>
<text x="403.56" y="303.20" font-size="9.0" text-anchor="middle" fill="#3c3c3c" stroke="#3c3c3c" stroke-width="0.05" textLength="4.25" lengthAdjust="spacingAndGlyphs">0</text>
<text x="427.70" y="303.20" font-size="9.0" text-anchor="middle" fill="#3c3c3c" stroke="#3c3c3c" stroke-width="0.05" textLength="4.25" lengthAdjust="spacingAndGlyphs">0</text>
<text x="451.84" y="303.20" font-size="9.0" text-anchor="middle" fill="#3c3c3c" stroke="#3c3c3c" stroke-width="0.05" textLength="4.25" lengthAdjust="spacingAndGlyphs">0</text>
<text x="475.98" y="303.20" font-size="9.0" text-anchor="middle" fill="#3c3c3c" stroke="#3c3c3c" stroke-width="0.05" textLength="4.25" lengthAdjust="spacingAndGlyphs">0</text>
<text x="500.12" y="303.20" font-size="9.0" text-anchor="middle" fill="#3c3c3c" stroke="#3c3c3c" stroke-width="0.05" textLength="4.25" lengthAdjust="spacingAndGlyphs">0</text>
<g opacity="0.8">
<line x1="54.90" y1="342.70" x2="62.90" y2="342.70" stroke="#d9cb3a" stroke-width="1.6"/>
<line x1="58.90" y1="341.10" x2="58.90" y2="344.30" stroke="#d9cb3a" stroke-width="1.1"/>
</g>
<text x="64.90" y="345.30" font-size="8.0" text-anchor="start" fill="#3a3a3a" stroke="#3a3a3a" stroke-width="0" textLength="75.00" lengthAdjust="spacingAndGlyphs">GEP70 low w/o FL-HiR</text>
<g opacity="0.8">
<line x1="54.90" y1="353.70" x2="62.90" y2="353.70" stroke="#29375e" stroke-width="1.6"/>
<line x1="58.90" y1="352.10" x2="58.90" y2="355.30" stroke="#29375e" stroke-width="1.1"/>
</g>
<text x="64.90" y="356.30" font-size="8.0" text-anchor="start" fill="#3a3a3a" stroke="#3a3a3a" stroke-width="0" textLength="75.40" lengthAdjust="spacingAndGlyphs">GEP70 low with FL-HiR</text>
<g opacity="0.8">
<line x1="144.50" y1="342.70" x2="152.50" y2="342.70" stroke="#c2c2c2" stroke-width="1.6"/>
<line x1="148.50" y1="341.10" x2="148.50" y2="344.30" stroke="#c2c2c2" stroke-width="1.1"/>
</g>
<text x="154.50" y="345.30" font-size="8.0" text-anchor="start" fill="#3a3a3a" stroke="#3a3a3a" stroke-width="0" textLength="78.90" lengthAdjust="spacingAndGlyphs">GEP70 high w/o FL-HiR</text>
<g opacity="0.8">
<line x1="144.50" y1="353.70" x2="152.50" y2="353.70" stroke="#8c1538" stroke-width="1.6"/>
<line x1="148.50" y1="352.10" x2="148.50" y2="355.30" stroke="#8c1538" stroke-width="1.1"/>
</g>
<text x="154.50" y="356.30" font-size="8.0" text-anchor="start" fill="#3a3a3a" stroke="#3a3a3a" stroke-width="0" textLength="79.80" lengthAdjust="spacingAndGlyphs">GEP70 high with FL-HiR</text>
<g opacity="0.8">
<line x1="286.40" y1="342.70" x2="294.40" y2="342.70" stroke="#d9cb3a" stroke-width="1.6"/>
<line x1="290.40" y1="341.10" x2="290.40" y2="344.30" stroke="#d9cb3a" stroke-width="1.1"/>
</g>
<text x="296.40" y="345.30" font-size="8.0" text-anchor="start" fill="#3a3a3a" stroke="#3a3a3a" stroke-width="0" textLength="61.20" lengthAdjust="spacingAndGlyphs">R-ISS I w/o FL-HiR</text>
<g opacity="0.8">
<line x1="286.40" y1="353.70" x2="294.40" y2="353.70" stroke="#5f8c45" stroke-width="1.6"/>
<line x1="290.40" y1="352.10" x2="290.40" y2="355.30" stroke="#5f8c45" stroke-width="1.1"/>
</g>
<text x="296.40" y="356.30" font-size="8.0" text-anchor="start" fill="#3a3a3a" stroke="#3a3a3a" stroke-width="0" textLength="61.70" lengthAdjust="spacingAndGlyphs">R-ISS I with FL-HiR</text>
<g opacity="0.8">
<line x1="361.40" y1="342.70" x2="369.40" y2="342.70" stroke="#29375e" stroke-width="1.6"/>
<line x1="365.40" y1="341.10" x2="365.40" y2="344.30" stroke="#29375e" stroke-width="1.1"/>
</g>
<text x="371.40" y="345.30" font-size="8.0" text-anchor="start" fill="#3a3a3a" stroke="#3a3a3a" stroke-width="0" textLength="62.20" lengthAdjust="spacingAndGlyphs">R-ISS II w/o FL-HiR</text>
<g opacity="0.8">
<line x1="361.40" y1="353.70" x2="369.40" y2="353.70" stroke="#8c1538" stroke-width="1.6"/>
<line x1="365.40" y1="352.10" x2="365.40" y2="355.30" stroke="#8c1538" stroke-width="1.1"/>
</g>
<text x="371.40" y="356.30" font-size="8.0" text-anchor="start" fill="#3a3a3a" stroke="#3a3a3a" stroke-width="0" textLength="62.80" lengthAdjust="spacingAndGlyphs">R-ISS II with FL-HiR</text>
<g opacity="0.8">
<line x1="437.20" y1="342.70" x2="445.20" y2="342.70" stroke="#c2c2c2" stroke-width="1.6"/>
<line x1="441.20" y1="341.10" x2="441.20" y2="344.30" stroke="#c2c2c2" stroke-width="1.1"/>
</g>
<text x="447.20" y="345.30" font-size="8.0" text-anchor="start" fill="#3a3a3a" stroke="#3a3a3a" stroke-width="0" textLength="62.90" lengthAdjust="spacingAndGlyphs">R-ISS III w/o FL-HiR</text>
<g opacity="0.8">
<line x1="437.20" y1="353.70" x2="445.20" y2="353.70" stroke="#3b2a55" stroke-width="1.6"/>
<line x1="441.20" y1="352.10" x2="441.20" y2="355.30" stroke="#3b2a55" stroke-width="1.1"/>
</g>
<text x="447.20" y="356.30" font-size="8.0" text-anchor="start" fill="#3a3a3a" stroke="#3a3a3a" stroke-width="0" textLength="64.40" lengthAdjust="spacingAndGlyphs">R-ISS III with FL-HiR</text>
<rect x="0.5" y="0.5" width="519" height="362.5" fill="none" stroke="#000" stroke-width="1"/>
<line x1="0" y1="363.5" x2="520" y2="363.5" stroke="#000" stroke-width="1"/>
</svg>
</body></html>
